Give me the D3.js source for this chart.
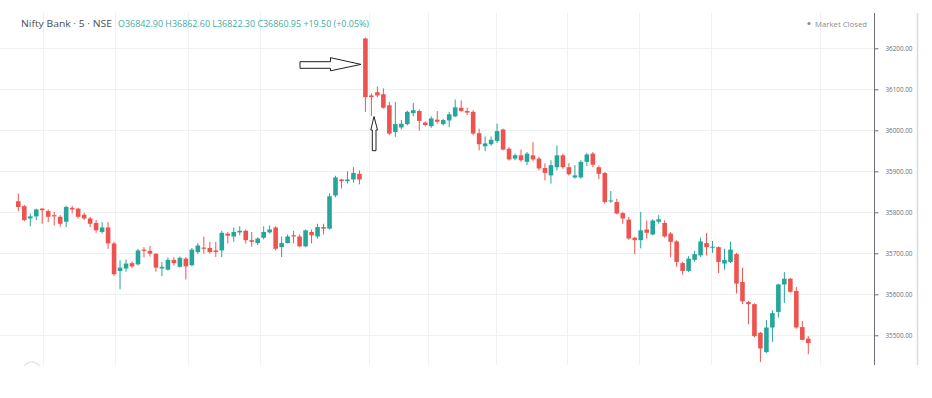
<!DOCTYPE html>
<html><head><meta charset="utf-8">
<script src="https://cdn.jsdelivr.net/npm/d3@7"></script>
<style>html,body{margin:0;padding:0;background:#fff;overflow:hidden}svg{display:block}</style>
</head><body>
<script>
// ---- data (Nifty Bank, 5-minute candles) ----
const opens = [35827,35815,35785,35790,35809,35803,35793,35789,35777,35811,35809,35794,35785,35774,35752,35763,35724,35657,35663,35676,
35673,35709,35706,35699,35663,35660,35684,35667,35687,35671,35703,35714,35713,35707,35707,35748,35741,35751,35755,35732,
35725,35738,35751,35763,35715,35725,35744,35741,35717,35752,35741,35764,35760,35841,35880,35876,35880,35894,
36224,36085,36093,36088,36061,35996,36007,36015,36042,36047,36019,36010,36026,36015,36024,36034,36055,36047,36045,35993,35961,35966,
35974,36002,35955,35931,35939,35923,35939,35931,35908,35890,35910,35939,35910,35885,35885,35923,35943,35910,35896,35827,
35825,35798,35782,35738,35732,35758,35746,35777,35774,35748,35729,35676,35657,35684,35695,35725,35714,35715,35675,35679,
35698,35630,35581,35576,35506,35459,35519,35557,35624,35638,35608,35520,35492];
const highs = [35846,35818,35797,35809,35810,35807,35801,35793,35816,35816,35811,35799,35789,35781,35776,35776,35728,35683,35685,35680,
35711,35715,35718,35700,35679,35690,35690,35692,35691,35713,35725,35741,35728,35728,35755,35752,35763,35766,35758,35752,
35739,35766,35768,35766,35741,35746,35755,35746,35758,35758,35772,35772,35846,35889,35882,35900,35910,35902,
36226,36090,36107,36102,36069,36069,36025,36048,36067,36051,36022,36034,36047,36028,36045,36075,36073,36055,36049,36004,35985,35985,
36016,36004,35959,35943,35953,35947,35971,35935,35919,35927,35963,35943,35920,35915,35927,35945,35947,35914,35898,35852,
35833,35801,35789,35740,35801,35780,35783,35793,35780,35752,35732,35679,35693,35706,35738,35750,35730,35717,35711,35728,
35701,35665,35584,35578,35508,35537,35561,35626,35654,35640,35618,35535,35498];
const lows = [35803,35778,35766,35781,35772,35776,35768,35765,35764,35797,35785,35781,35764,35750,35748,35711,35645,35612,35655,35664,
35670,35690,35692,35655,35644,35658,35670,35665,35636,35668,35698,35699,35699,35691,35691,35724,35728,35744,35724,35716,
35720,35734,35748,35707,35691,35724,35724,35715,35715,35724,35736,35746,35758,35837,35858,35870,35872,35868,
36045,36035,36081,36053,35988,35984,36002,36012,36034,35999,36010,36006,36016,36012,36008,36032,36045,36037,35988,35951,35949,35962,
35969,35951,35926,35927,35923,35915,35924,35902,35878,35870,35902,35906,35890,35882,35882,35913,35910,35881,35821,35823,
35795,35772,35733,35698,35712,35736,35744,35772,35738,35690,35667,35648,35654,35679,35691,35695,35701,35652,35660,35676,
35602,35576,35527,35495,35435,35457,35484,35543,35579,35604,35516,35488,35454];
const closes = [35813,35781,35790,35807,35805,35789,35790,35772,35813,35807,35789,35785,35772,35756,35763,35724,35649,35665,35675,35668,
35707,35706,35699,35665,35667,35684,35676,35689,35668,35709,35719,35711,35703,35703,35750,35743,35752,35755,35732,35728,
35736,35752,35758,35711,35725,35741,35741,35717,35756,35744,35764,35760,35839,35885,35876,35880,35896,35880,
36081,36081,36085,36055,35992,36015,36016,36045,36049,36023,36013,36029,36021,36025,36039,36056,36047,36043,35992,35966,35968,35977,
35998,35953,35929,35939,35927,35943,35929,35907,35896,35915,35939,35910,35893,35890,35923,35941,35916,35894,35825,35829,
35797,35785,35736,35732,35756,35750,35780,35783,35741,35728,35679,35657,35687,35698,35729,35715,35716,35679,35684,35709,
35626,35583,35576,35498,35468,35519,35554,35624,35638,35606,35519,35489,35481];
const priceTicks = [35500,35600,35700,35800,35900,36000,36100,36200];
const timeGridAt = [4.2,16.2,28.3,40.4,58.6,68.5,79.8,91.6,103.7,115.7,134];
const title = "Nifty Bank · 5 · NSE";
const ohlcText = "O36842.90 H36862.60 L36822.30 C36860.95 +19.50 (+0.05%)";
const statusText = "Market Closed";

// ---- drawing ----
const W = 932, H = 398;
const UP = "#26a69a", DOWN = "#ef5350", GRID = "#eef0f3";
const plotTop = 13, plotBottom = 365, axisX = 874;
const candles = opens.map((o,i)=>({i, o, h:highs[i], l:lows[i], c:closes[i]}));

const x = d3.scaleLinear().domain([0, candles.length-1]).range([18.3, 808.3]);
const y = d3.scaleLinear().domain([35500, 36200]).range([335.3, 48.3]);

const svg = d3.select("body").append("svg").attr("width", W).attr("height", H);
svg.append("rect").attr("width", W).attr("height", H).attr("fill", "#fff");

// grid
svg.append("g").selectAll("line").data(priceTicks).join("line")
  .attr("x1", 0).attr("x2", axisX).attr("y1", d=>Math.round(y(d))+0.5).attr("y2", d=>Math.round(y(d))+0.5)
  .attr("stroke", GRID).attr("stroke-width", 1);
svg.append("g").selectAll("line").data(timeGridAt).join("line")
  .attr("x1", d=>Math.round(x(d))+0.5).attr("x2", d=>Math.round(x(d))+0.5)
  .attr("y1", plotTop).attr("y2", plotBottom)
  .attr("stroke", GRID).attr("stroke-width", 1);

// candles
const bw = 4.6;
const g = svg.append("g");
g.selectAll("line.wick").data(candles).join("line").attr("class","wick")
  .attr("x1", d=>x(d.i)).attr("x2", d=>x(d.i))
  .attr("y1", d=>y(d.h)).attr("y2", d=>y(d.l))
  .attr("stroke", d=>d.c>=d.o?UP:DOWN).attr("stroke-width", 1);
g.selectAll("rect.body").data(candles).join("rect").attr("class","body")
  .attr("x", d=>x(d.i)-bw/2).attr("width", bw)
  .attr("y", d=>y(Math.max(d.o,d.c)))
  .attr("height", d=>Math.max(1, y(Math.min(d.o,d.c))-y(Math.max(d.o,d.c))))
  .attr("fill", d=>d.c>=d.o?UP:DOWN);

// price axis
const ax = svg.append("g").attr("transform", `translate(${axisX+0.5},0)`)
  .call(d3.axisRight(y).tickValues(priceTicks).tickFormat(d3.format(".2f")).tickSize(4).tickPadding(7));
ax.select(".domain").remove();
ax.selectAll(".tick line").attr("stroke", "#6a6d78");
ax.selectAll(".tick text").attr("fill", "#6a6d78")
  .attr("textLength", 27).attr("lengthAdjust", "spacingAndGlyphs")
  .style("font-family", "'Open Sans', sans-serif").style("font-size", "7.4px");
svg.append("line").attr("x1", axisX+0.5).attr("x2", axisX+0.5).attr("y1", plotTop).attr("y2", plotBottom)
  .attr("stroke", "#6a6d78").attr("stroke-width", 1);
svg.append("line").attr("x1", 917.5).attr("x2", 917.5).attr("y1", plotTop).attr("y2", plotBottom)
  .attr("stroke", "#d9dbe0").attr("stroke-width", 1.5);

// header
svg.append("text").attr("x", 21).attr("y", 27).text(title)
  .attr("fill", "#4a4d57").attr("textLength", 91).attr("lengthAdjust", "spacingAndGlyphs")
  .style("font-family", "'Open Sans', sans-serif").style("font-size", "9.5px");
svg.append("text").attr("x", 118).attr("y", 27).text(ohlcText)
  .attr("fill", "#3fae9f").attr("textLength", 251).attr("lengthAdjust", "spacingAndGlyphs")
  .style("font-family", "'Open Sans', sans-serif").style("font-size", "8.6px");
svg.append("circle").attr("cx", 809).attr("cy", 23.5).attr("r", 1.6).attr("fill", "#8a8d96");
svg.append("text").attr("x", 815).attr("y", 26.5).text(statusText)
  .attr("fill", "#8a8d96").attr("textLength", 52).attr("lengthAdjust", "spacingAndGlyphs")
  .style("font-family", "'Open Sans', sans-serif").style("font-size", "8px");

// annotation arrows
svg.append("path")
  .attr("d", "M300,61.7 L330.5,61.7 L330.5,57.7 L361,64.4 L330.5,70.8 L330.5,68.3 L300,68.3 Z")
  .attr("fill", "#fff").attr("stroke", "#222").attr("stroke-width", 1);
svg.append("path")
  .attr("d", "M374,116.5 L377.5,130 L376,130 L376,150.7 L372.3,150.7 L372.3,130 L370.8,130 Z")
  .attr("fill", "#fff").attr("stroke", "#222").attr("stroke-width", 1);

// faint scroll button at bottom-left
svg.append("path").attr("d", "M24,366 Q31,358 40,366").attr("fill", "none")
  .attr("stroke", "#e6e8ec").attr("stroke-width", 1.5);
</script>
</body></html>
